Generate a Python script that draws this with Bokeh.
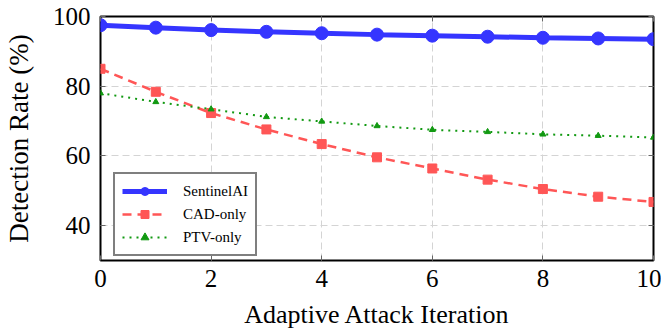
from bokeh.plotting import figure
from bokeh.models import Legend, LegendItem, LinearAxis, FixedTicker, Range1d, CustomJSTickFormatter
from bokeh.embed import file_html
from bokeh.resources import INLINE

iterations = [0, 1, 2, 3, 4, 5, 6, 7, 8, 9, 10]
sentinel = [97.5, 96.8, 96.1, 95.6, 95.2, 94.8, 94.5, 94.2, 93.9, 93.7, 93.5]
cad_only = [85.0, 78.4, 72.3, 67.6, 63.4, 59.6, 56.4, 53.2, 50.5, 48.3, 46.8]
ptv_only = [78.0, 75.5, 73.4, 71.2, 69.9, 68.6, 67.5, 66.9, 66.2, 65.8, 65.3]
x_ticks = [0, 2, 4, 6, 8, 10]
y_ticks = [40, 60, 80, 100]

FONT = "Liberation Serif"

p = figure(frame_width=553, frame_height=244, output_backend="svg", toolbar_location=None,
           x_range=Range1d(0, 10), y_range=Range1d(30, 100),
           min_border_left=99, min_border_top=16, min_border_right=8, min_border_bottom=69)
p.outline_line_color = "black"
p.outline_line_width = 2
p.background_fill_color = "white"
p.border_fill_color = "white"

for ax in (p.xaxis[0], p.yaxis[0]):
    ax.major_label_text_font = FONT
    ax.major_label_text_font_size = "25px"
    ax.major_label_text_color = "black"
    ax.axis_label_text_font = FONT
    ax.axis_label_text_font_size = "27px"
    ax.axis_label_text_font_style = "normal"
    ax.axis_label_text_color = "black"
    ax.axis_line_color = None
    ax.major_tick_in = 5
    ax.major_tick_out = 0
    ax.major_tick_line_color = "#666666"
    ax.minor_tick_line_color = None

p.xaxis[0].ticker = FixedTicker(ticks=x_ticks)
p.yaxis[0].ticker = FixedTicker(ticks=y_ticks)
p.xaxis[0].axis_label = "Adaptive Attack Iteration"
p.yaxis[0].axis_label = "Detection Rate (%)"
p.xaxis[0].axis_label_text_font_size = "26px"
p.xaxis[0].major_label_standoff = 9
p.xaxis[0].axis_label_standoff = 10
p.yaxis[0].major_label_standoff = 10
p.yaxis[0].axis_label_standoff = 16

blank = CustomJSTickFormatter(code="return '';")
for loc, tk in (("right", y_ticks), ("above", x_ticks)):
    a = LinearAxis(ticker=FixedTicker(ticks=tk), formatter=blank,
                   axis_line_color=None, major_tick_in=5, major_tick_out=0,
                   major_tick_line_color="#666666", minor_tick_line_color=None,
                   major_label_standoff=0)
    p.add_layout(a, loc)

p.xgrid.ticker = FixedTicker(ticks=x_ticks)
p.ygrid.ticker = FixedTicker(ticks=y_ticks)
for g in (p.xgrid[0], p.ygrid[0]):
    g.grid_line_color = "#d4d4d4"
    g.grid_line_dash = "7 4"
    g.grid_line_width = 1

blue = "#3535ff"
red = "#ff5656"
green = "#119911"

l1 = p.line(iterations, sentinel, line_color=blue, line_width=5)
m1 = p.scatter(iterations, sentinel, marker="circle", size=13, fill_color=blue, line_color=blue)
l2 = p.line(iterations, cad_only, line_color=red, line_width=2.5, line_dash="9 6")
m2 = p.scatter(iterations, cad_only, marker="square", size=9, fill_color=red, line_color=red)
l3 = p.line(iterations, ptv_only, line_color=green, line_width=2, line_dash="2 5")
m3 = p.scatter(iterations, ptv_only, marker="triangle", size=6, fill_color=green, line_color=green)

legend = Legend(items=[LegendItem(label="SentinelAI", renderers=[l1, m1]),
                       LegendItem(label="CAD-only", renderers=[l2, m2]),
                       LegendItem(label="PTV-only", renderers=[l3, m3])],
                location=(13, 4), orientation="vertical")
legend.label_text_font = FONT
legend.label_text_font_size = "15px"
legend.label_text_color = "black"
legend.border_line_color = "black"
legend.border_line_width = 2
legend.background_fill_alpha = 1
legend.glyph_width = 45
legend.glyph_height = 20
legend.label_height = 20
legend.spacing = 3
legend.padding = 7
legend.margin = 0
legend.label_standoff = 16
p.add_layout(legend, "center")

open("out.html", "w").write(file_html(p, INLINE))
